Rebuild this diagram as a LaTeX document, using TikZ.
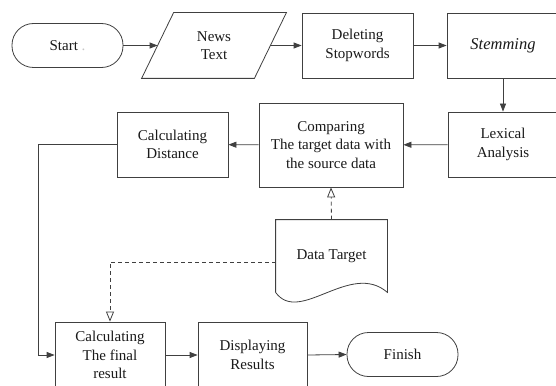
\documentclass[tikz,border=0pt]{standalone}
\usepackage{fontspec}
\setmainfont{Liberation Serif}
\newfontfamily\tnr{Liberation Serif}
\usetikzlibrary{arrows.meta}
\definecolor{ln}{HTML}{404040}
\definecolor{tx}{HTML}{1A1A1A}
\tikzset{
  base/.style={draw=ln, line width=0.8pt, inner sep=0pt, align=center, text=tx,
    font=\tnr\fontsize{15}{18.5}\selectfont},
  box/.style={base, rectangle},
  term/.style={base, rectangle, rounded corners=21.5pt, minimum width=111pt, minimum height=44pt},
  ghost/.style={base, draw=none, rectangle},
  arr/.style={draw=ln, line width=0.8pt, -{Triangle[length=8pt,width=6pt]}},
  darr/.style={draw=ln, line width=0.8pt, dashed, dash pattern=on 4pt off 3pt,
    -{Triangle[open,length=10pt,width=8pt]}},
  shp/.style={draw=ln, line width=0.8pt}
}
\begin{document}
\begin{tikzpicture}[x=1pt,y=-1pt]
\useasboundingbox (0,0) rectangle (556,385);
\clip (0,0) rectangle (556,385);
\fill[white] (0,0) rectangle (556,385);
% nodes
\node[term] (start) at (67.5,45.5) {Start {\color{gray!45}.}};
\node[ghost, minimum width=112pt, minimum height=65pt] (news) at (214,45.5) {News\\Text};
\draw[shp] ([xshift=16pt]news.north west) -- ([xshift=16pt]news.north east)
  -- ([xshift=-16pt]news.south east) -- ([xshift=-16pt]news.south west) -- cycle;
\node[box, minimum width=111pt, minimum height=65pt] (del) at (357.5,45.5) {Deleting\\Stopwords};
\node[box, minimum width=112pt, minimum height=65pt, font=\tnr\fontsize{16.5}{19}\selectfont\itshape] (stem) at (503,45.5) {Stemming};
\node[box, minimum width=110pt, minimum height=65pt] (lex) at (503,144.5) {Lexical\\Analysis};
\node[box, minimum width=144pt, minimum height=84pt] (comp) at (331,145) {Comparing\\The target data with\\the source data};
\node[box, minimum width=111pt, minimum height=65pt] (dist) at (172.5,144.5) {Calculating\\Distance};
\node[ghost, minimum width=111pt, minimum height=72pt] (dt) at (331.5,256) {Data Target};
\draw[shp] (dt.south west) -- (dt.north west) -- (dt.north east) -- (dt.south east)
  .. controls ([xshift=-37pt,yshift=32pt]dt.south east) and ([xshift=24pt,yshift=-33pt]dt.south west) .. (dt.south west);
\node[box, minimum width=110pt, minimum height=66pt] (final) at (110,355) {Calculating\\The final\\result};
\node[box, minimum width=109pt, minimum height=66pt] (disp) at (252.5,355) {Displaying\\Results};
\node[term] (finish) at (402.5,354.5) {Finish};
% connectors
\draw[arr] (start) -- (news.west);
\draw[arr] (news.east) -- (del.west);
\draw[arr] (del) -- (stem);
\draw[arr] (stem.south) -- (lex.north);
\draw[arr] (lex) -- (comp);
\draw[arr] (comp) -- (dist);
\coordinate (bend) at (38,144.5);
\draw[arr] (dist.west) -- (bend) |- (final.west);
\draw[arr] (final) -- (disp);
\draw[arr] (disp.east) -- (finish.west);
\draw[darr] (dt.north) -- (comp.south);
\draw[darr] ([yshift=-6pt]dt.west) -| (final.north);
\end{tikzpicture}
\end{document}
